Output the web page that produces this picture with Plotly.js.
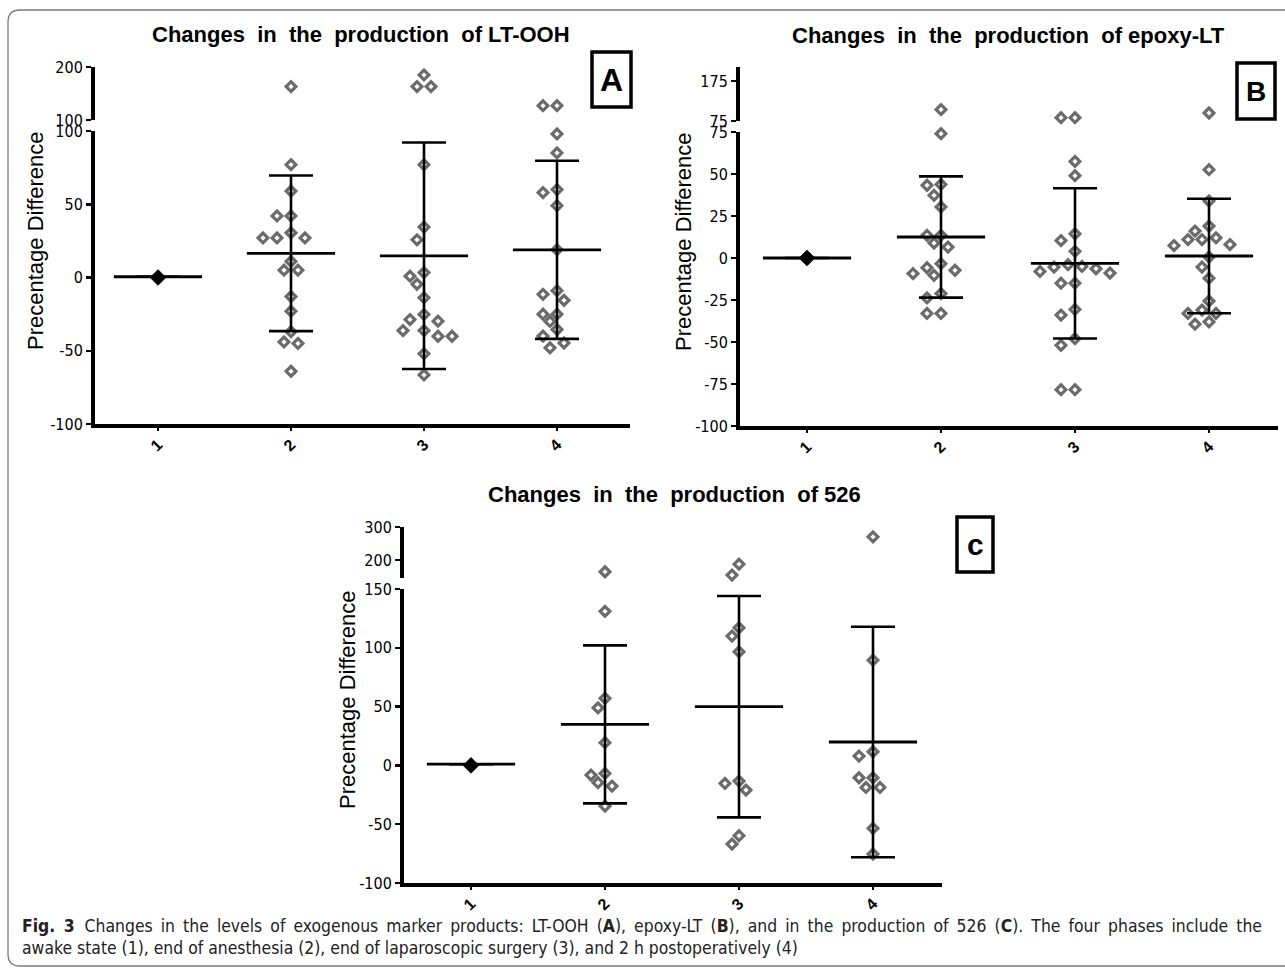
<!DOCTYPE html>
<html><head><meta charset="utf-8">
<script src="https://cdn.plot.ly/plotly-3.0.1.min.js"></script>
<style>html,body{margin:0;padding:0;background:#fff}</style>
</head><body><div id="chart" style="width:1285px;height:970px"></div>
<script>
// ---------- DATA ----------
const categories = ['1', '2', '3', '4'];

// Panel A: LT-OOH
const ltoohG1 = [0];
const ltoohG2 = [163, 77, 59, 42, 42, 30.5, 27, 27, 27, 11, 5, 5, -13, -23, -37, -44, -45, -64];
const ltoohG3 = [185, 163, 163, 77, 34.4, 25.7, 3.4, 0.9, -4.6, -13.8, -25.2, -28.7, -29.8, -36.2, -36.2, -40.1, -40.1, -52, -66.5];
const ltoohG4 = [127, 127, 98, 85, 60, 58, 49, 19, -9, -11.5, -15.6, -25, -25, -30, -35.5, -40, -44.7, -48];
const ltoohMean = [0.5, 16.5, 14.8, 18.9];
const ltoohSD = [0, 53.1, 77.3, 60.8];
const ltoohLowTicks = [-100, -50, 0, 50, 100];
const ltoohUpTicks = [100, 200];

// Panel B: epoxy-LT
const epoxyG1 = [0];
const epoxyG2 = [103.6, 74, 43.8, 43.3, 37.3, 30.4, 13.5, 13.5, 8.9, 6.5, -3.4, -5.8, -7.3, -9.3, -10.3, -21.2, -23.8, -33, -33];
const epoxyG3 = [83.4, 83.4, 57.5, 49, 14.4, 10.4, 4, -4, -5, -5.4, -6.4, -8, -9, -15, -15, -30.6, -34, -48, -52, -78.4, -78.4];
const epoxyG4 = [95, 52.6, 34, 19, 16, 12, 11, 11, 8, 7.4, 0.6, -5.4, -12, -25.6, -31, -33, -33, -38, -39.4];
const epoxyMean = [0, 12.5, -3.2, 1.2];
const epoxySD = [0, 36.1, 44.7, 34.1];
const epoxyLowTicks = [-100, -75, -50, -25, 0, 25, 50, 75];
const epoxyUpTicks = [75, 175];

// Panel C: 526
const p526G1 = [0];
const p526G2 = [164, 131, 57, 49, 19.3, -6.8, -8.2, -14.7, -17.6, -34.6];
const p526G3 = [187, 154, 117, 110, 96.6, -13.3, -15.3, -21, -59.8, -66.9];
const p526G4 = [270, 89.5, 11.6, 7.9, -10.5, -10.5, -18.7, -18.7, -53.5, -75.4];
const p526Mean = [1, 34.9, 49.9, 19.9];
const p526SD = [0, 67.2, 94.1, 98];
const p526LowTicks = [-100, -50, 0, 50, 100, 150];
const p526UpTicks = [200, 300];

const titleA = 'Changes\u00a0\u00a0in\u00a0\u00a0the\u00a0\u00a0production\u00a0\u00a0of LT-OOH';
const titleB = 'Changes\u00a0\u00a0in\u00a0\u00a0the\u00a0\u00a0production\u00a0\u00a0of epoxy-LT';
const titleC = 'Changes\u00a0\u00a0in\u00a0\u00a0the\u00a0\u00a0production\u00a0\u00a0of 526';
const yTitle = 'Precentage Difference';
const captionLine1 = '<b>Fig. 3</b>\u00a0\u00a0Changes in the levels of exogenous marker products: LT-OOH (<b>A</b>), epoxy-LT (<b>B</b>), and in the production of 526 (<b>C</b>). The four phases include the';
const captionLine2 = 'awake state (1), end of anesthesia (2), end of laparoscopic surgery (3), and 2 h postoperatively (4)';

// ---------- LAYOUT GEOMETRY ----------
const W = 1285, H = 970;
const px = x => x / W;
const py = y => 1 - y / H;
const FONT_NARROW = 'DejaVu Sans Condensed, Liberation Sans Narrow, Liberation Sans, Arial, sans-serif';
const FONT_MAIN = 'Liberation Sans, Arial, sans-serif';

const panels = [
  {groups: [ltoohG1, ltoohG2, ltoohG3, ltoohG4], mean: ltoohMean, sd: ltoohSD,
   lowTicks: ltoohLowTicks, upTicks: ltoohUpTicks, lowRange: [-100, 100], upRange: [100, 200],
   xPix: [95, 630], cat1: 158, step: 133, lowPix: [131, 424], upPix: [67, 120],
   xa: 'x', yl: 'y', yu: 'y2', title: titleA, titleXY: [361, 35], yTitleXY: [35, 241],
   box: [592, 52, 631, 107], letter: 'A', letterSize: 32},
  {groups: [epoxyG1, epoxyG2, epoxyG3, epoxyG4], mean: epoxyMean, sd: epoxySD,
   lowTicks: epoxyLowTicks, upTicks: epoxyUpTicks, lowRange: [-100, 75], upRange: [75, 210],
   xPix: [740, 1278], cat1: 807, step: 134, lowPix: [132, 426], upPix: [67, 121],
   xa: 'x2', yl: 'y3', yu: 'y4', title: titleB, titleXY: [1008, 36], yTitleXY: [683, 242],
   box: [1237, 63, 1275, 119], letter: 'B', letterSize: 28},
  {groups: [p526G1, p526G2, p526G3, p526G4], mean: p526Mean, sd: p526SD,
   lowTicks: p526LowTicks, upTicks: p526UpTicks, lowRange: [-100, 150], upRange: [145, 300],
   xPix: [404, 942], cat1: 471, step: 134, lowPix: [589, 883], upPix: [527, 578],
   xa: 'x3', yl: 'y5', yu: 'y6', title: titleC, titleXY: [674, 495], yTitleXY: [347, 700],
   box: [957, 517, 993, 572], letter: 'c', letterSize: 30}
];

// simple beeswarm (pixel space) to spread overlapping points
function swarm(pixYs, stepPx, diam) {
  const order = pixYs.map((v, i) => i).sort((a, b) => pixYs[a] - pixYs[b]);
  const placed = [], off = new Array(pixYs.length).fill(0);
  const cands = [0];
  for (let s = 1; s < 12; s++) cands.push(-s * stepPx, s * stepPx);
  for (const i of order) {
    const yp = pixYs[i];
    let chosen = 0;
    for (const c of cands) {
      if (placed.every(p => Math.abs(p.x - c) + Math.abs(p.y - yp) >= diam)) { chosen = c; break; }
    }
    off[i] = chosen; placed.push({x: chosen, y: yp});
  }
  return off;
}

const traces = [], layout = {
  width: W, height: H, margin: {l: 0, r: 0, t: 0, b: 0},
  paper_bgcolor: '#fff', plot_bgcolor: 'rgba(0,0,0,0)', showlegend: false,
  annotations: [], shapes: []
};
const axBase = {showline: true, linewidth: 4, linecolor: '#000', ticks: 'outside', ticklen: 5,
  tickwidth: 2.5, tickcolor: '#000', showgrid: false, zeroline: false, fixedrange: true};

panels.forEach((p, pi) => {
  const xKey = 'xaxis' + (pi === 0 ? '' : (pi + 1));
  const ylNum = pi * 2 + 1, yuNum = pi * 2 + 2;
  const ylKey = 'yaxis' + (ylNum === 1 ? '' : ylNum), yuKey = 'yaxis' + yuNum;
  const xlo = 1 - (p.cat1 - p.xPix[0]) / p.step, xhi = 1 + (p.xPix[1] - p.cat1) / p.step;
  layout[xKey] = Object.assign({}, axBase, {
    domain: [px(p.xPix[0]), px(p.xPix[1])], range: [xlo, xhi], anchor: p.yl,
    tickvals: [1, 2, 3, 4], ticktext: categories, tickangle: -45, ticklen: 3,
    ticklabelstandoff: -2,
    tickfont: {family: FONT_MAIN, size: 16, color: '#000', weight: 'bold'}
  });
  layout[ylKey] = Object.assign({}, axBase, {
    domain: [py(p.lowPix[1]), py(p.lowPix[0])], range: p.lowRange, anchor: p.xa,
    tickvals: p.lowTicks, ticktext: p.lowTicks.map(String),
    tickfont: {family: FONT_NARROW, size: 16, color: '#000'}
  });
  layout[yuKey] = Object.assign({}, axBase, {
    domain: [py(p.upPix[1]), py(p.upPix[0])], range: p.upRange, anchor: p.xa,
    tickvals: p.upTicks, ticktext: p.upTicks.map(String),
    tickfont: {family: FONT_NARROW, size: 16, color: '#000'}
  });

  const lowScale = (p.lowPix[1] - p.lowPix[0]) / (p.lowRange[1] - p.lowRange[0]);
  const upScale = (p.upPix[1] - p.upPix[0]) / (p.upRange[1] - p.upRange[0]);
  const lx = [], ly = [], ux = [], uy = [];
  p.groups.forEach((g, gi) => {
    if (gi === 0) {
      traces.push({type: 'scatter', mode: 'markers', x: g.map(() => 1), y: g, xaxis: p.xa, yaxis: p.yl,
        marker: {symbol: 'diamond', size: 12, color: '#000', line: {color: '#000', width: 1}},
        cliponaxis: false, hoverinfo: 'skip'});
      return;
    }
    const pix = g.map(v => v > p.lowRange[1] ? -1000 - v * upScale : -v * lowScale);
    const off = swarm(pix, 7, 14);
    g.forEach((v, k) => {
      const xv = gi + 1 + off[k] / p.step;
      if (v > p.lowRange[1]) { ux.push(xv); uy.push(v); } else { lx.push(xv); ly.push(v); }
    });
  });
  const grayMarker = {symbol: 'diamond-open', size: 7.5, color: '#6b6b6b', line: {color: '#6b6b6b', width: 3.2}};
  traces.push({type: 'scatter', mode: 'markers', x: lx, y: ly, xaxis: p.xa, yaxis: p.yl,
    marker: grayMarker, cliponaxis: false, hoverinfo: 'skip'});
  traces.push({type: 'scatter', mode: 'markers', x: ux, y: uy, xaxis: p.xa, yaxis: p.yu,
    marker: grayMarker, cliponaxis: false, hoverinfo: 'skip'});
  // mean lines + SD error bars
  traces.push({type: 'scatter', mode: 'markers', x: [1, 2, 3, 4], y: p.mean, xaxis: p.xa, yaxis: p.yl,
    marker: {symbol: 'line-ew', size: 63, color: '#000', line: {color: '#000', width: 2.8}},
    error_y: {type: 'data', array: p.sd, visible: true, color: '#000', thickness: 2.6, width: 22},
    cliponaxis: false, hoverinfo: 'skip'});

  // titles
  layout.annotations.push({xref: 'paper', yref: 'paper', x: px(p.titleXY[0]), y: py(p.titleXY[1]),
    xanchor: 'center', yanchor: 'middle', showarrow: false, text: '<b>' + p.title + '</b>',
    font: {family: FONT_MAIN, size: 22, color: '#000'}});
  layout.annotations.push({xref: 'paper', yref: 'paper', x: px(p.yTitleXY[0]), y: py(p.yTitleXY[1]),
    xanchor: 'center', yanchor: 'middle', showarrow: false, text: yTitle, textangle: -90,
    font: {family: FONT_MAIN, size: 22, color: '#000'}});
  // panel label box
  const b = p.box;
  layout.shapes.push({type: 'rect', xref: 'paper', yref: 'paper', x0: px(b[0]), x1: px(b[2]),
    y0: py(b[3]), y1: py(b[1]), line: {color: '#000', width: 3.5}, fillcolor: '#fff'});
  layout.annotations.push({xref: 'paper', yref: 'paper', x: px((b[0] + b[2]) / 2), y: py((b[1] + b[3]) / 2),
    xanchor: 'center', yanchor: 'middle', showarrow: false, text: '<b>' + p.letter + '</b>',
    font: {family: FONT_MAIN, size: p.letterSize, color: '#000'}});
});

// caption (first line is justified in the reference: widen its word gaps)
const justified1 = captionLine1.replace(/ (?![^<]*>)/g, ' \u2009');
layout.annotations.push({xref: 'paper', yref: 'paper', x: px(20), y: py(926), xanchor: 'left', yanchor: 'middle',
  showarrow: false, text: justified1, font: {family: FONT_NARROW, size: 17.4, color: '#222'}});
layout.annotations.push({xref: 'paper', yref: 'paper', x: px(20), y: py(948), xanchor: 'left', yanchor: 'middle',
  showarrow: false, text: captionLine2, font: {family: FONT_NARROW, size: 17.4, color: '#222'}});

// outer frame with rounded corners
const fx0 = 8, fy0 = 10, fx1 = 1300, fy1 = 966, r = 12;
layout.shapes.push({type: 'path', xref: 'paper', yref: 'paper', layer: 'below',
  path: `M ${px(fx1)},${py(fy0)} L ${px(fx0 + r)},${py(fy0)} Q ${px(fx0)},${py(fy0)} ${px(fx0)},${py(fy0 + r)} ` +
        `L ${px(fx0)},${py(fy1 - r)} Q ${px(fx0)},${py(fy1)} ${px(fx0 + r)},${py(fy1)} L ${px(fx1)},${py(fy1)}`,
  line: {color: '#7a7a7a', width: 1.3}});

Plotly.newPlot('chart', traces, layout, {staticPlot: true, displayModeBar: false});
</script></body></html>
